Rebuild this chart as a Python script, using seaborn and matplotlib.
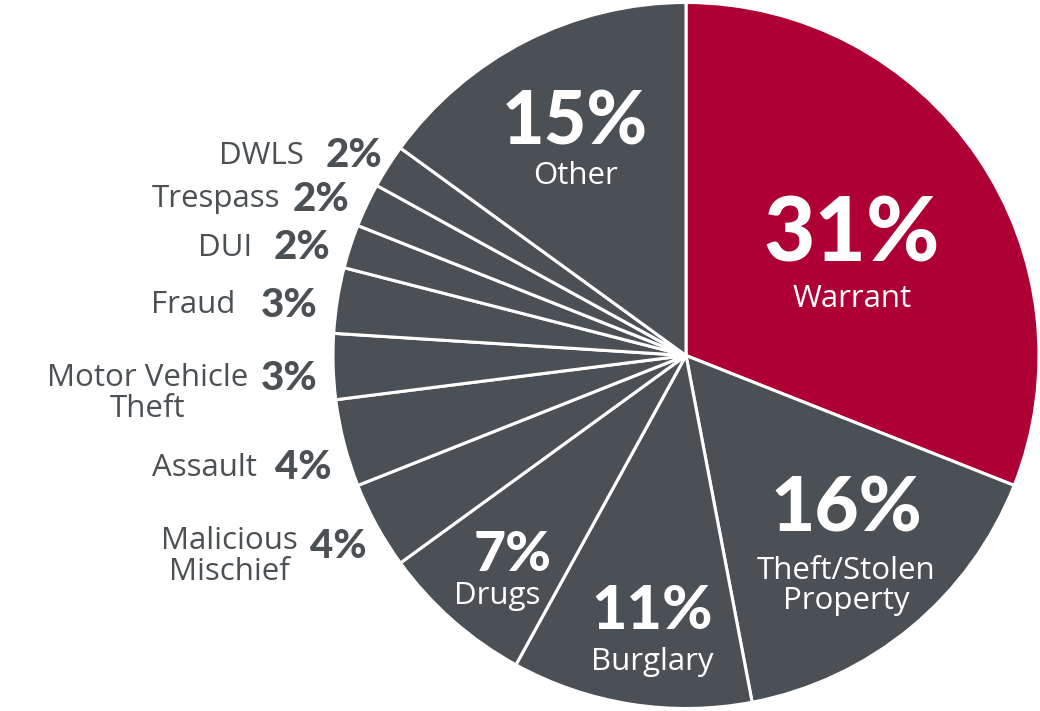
import numpy as np
import matplotlib
matplotlib.use("Agg")
import matplotlib.pyplot as plt
import seaborn as sns

# ---- data ----
categories = ["Warrant", "Theft/Stolen Property", "Burglary", "Drugs",
              "Malicious Mischief", "Assault", "Motor Vehicle Theft", "Fraud",
              "DUI", "Trespass", "DWLS", "Other"]
values = [31, 16, 11, 7, 4, 4, 3, 3, 2, 2, 2, 15]
name_line1 = ["Warrant", "Theft/Stolen", "Burglary", "Drugs", "Malicious", "Assault",
              "Motor Vehicle", "Fraud", "DUI", "Trespass", "DWLS", "Other"]
name_line2 = ["", "Property", "", "", "Mischief", "", "Theft", "", "", "", "", ""]

# ---- style / layout ----
sns.set_theme(style="white")
NAME_FONT = ["Open Sans", "DejaVu Sans"]
PCT_FONT = ["Lato", "DejaVu Sans"]
plt.rcParams["font.family"] = NAME_FONT

RED = "#AE0034"
GRAY = "#4B5054"
colors = [RED] + [GRAY] * (len(values) - 1)

inside = [True, True, True, True, False, False, False, False, False, False, False, True]
# label anchor: radius fraction and angle shift (deg) from slice mid-angle
label_r = [0.58, 0.63, 0.73, 0.75, 1.05, 1.05, 1.045, 1.055, 1.055, 1.055, 1.035, 0.73]
label_shift = [1.8, 6.4, 1.4, 0.4, 1.6, 2.7, 1.2, 0.7, 0.6, -0.2, -1.4, -1.5]
pct_size = [64, 55, 44, 40, 29, 29, 29, 29, 29, 29, 29, 53]
name_drop = [64, 76, 51, 41, 0, 0, 0, 0, 0, 0, 0, 53]     # px below pct (inside)
name_dx = [0, 0, 0, -15, 0, 0, 0, 0, 0, 0, 0, 0]
name_gap = [0, 0, 0, 0, 12, 18, 13, 25, 22, 13, 22, 0]    # px gap (outside)
name_dy = [0, 0, 0, 0, -9, 0, -15, 0, 0, 0, 0, 0]         # px shift of 2-line names (outside)
NAME_SIZE = 22.5

W, H = 1040, 711
CX, CY, R = 686, 711 - 355.5, 353

fig = plt.figure(figsize=(W / 100, H / 100), dpi=100)
ax = fig.add_axes([0, 0, 1, 1])
ax.pie(values, center=(CX, CY), radius=R, startangle=90, counterclock=False,
       colors=colors, wedgeprops=dict(edgecolor="white", linewidth=2.2))
ax.set_xlim(0, W)
ax.set_ylim(0, H)
ax.set_aspect("equal")
ax.axis("off")

total = float(sum(values))
cum = np.cumsum([0] + values[:-1])
PX = 0.72  # points per pixel


def polar(rf, ang):
    a = np.deg2rad(ang)
    return CX + rf * R * np.cos(a), CY + rf * R * np.sin(a)


for i, v in enumerate(values):
    mid = 90 - (cum[i] + v / 2) / total * 360 + label_shift[i]
    x, y = polar(label_r[i], mid)
    pct = f"{v}%"
    name = name_line1[i] + ("\n" + name_line2[i] if name_line2[i] else "")
    if inside[i]:
        ax.text(x, y, pct, ha="center", va="center", color="white",
                fontsize=pct_size[i], fontweight="black", family=PCT_FONT)
        ax.text(x + name_dx[i], y - name_drop[i], name, ha="center", va="center",
                color="white", fontsize=NAME_SIZE, linespacing=1.0)
    else:
        t = ax.text(x, y, pct, ha="right", va="center_baseline", color=GRAY,
                    fontsize=pct_size[i], fontweight="black", family=PCT_FONT)
        ax.annotate(name, xy=(0, y), xycoords=(t, "data"),
                    xytext=(-name_gap[i] * PX, name_dy[i] * PX),
                    textcoords="offset points",
                    ha="right", va="center_baseline", multialignment="center",
                    color=GRAY, fontsize=NAME_SIZE, linespacing=1.05)

fig.savefig("out.png", dpi=100)
